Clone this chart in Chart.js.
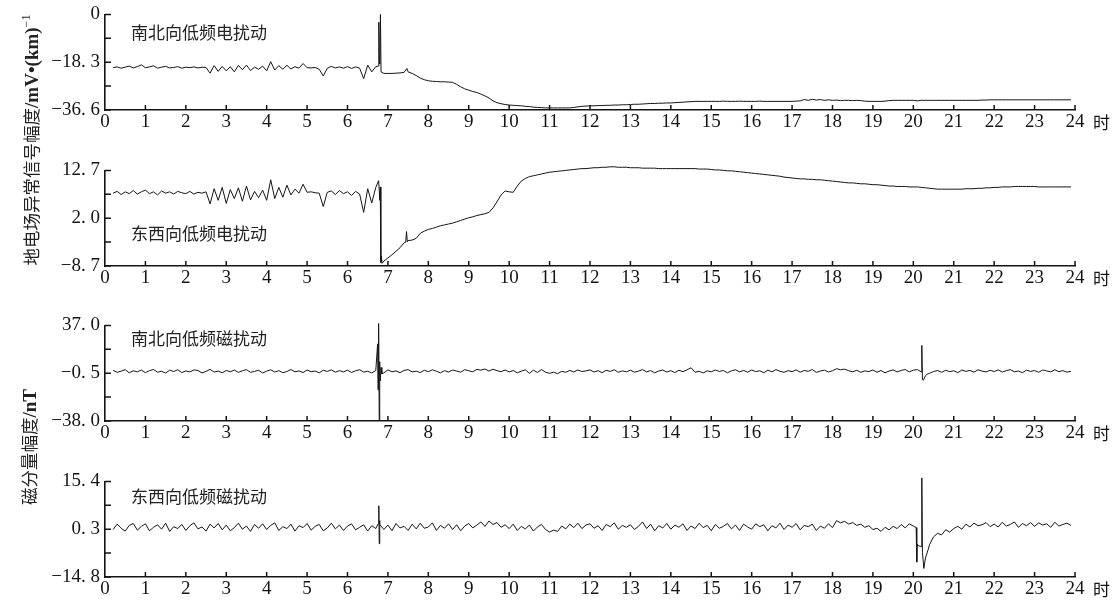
<!DOCTYPE html>
<html><head><meta charset="utf-8">
<script src="https://cdn.jsdelivr.net/npm/chart.js@4.4.1/dist/chart.umd.min.js"></script>
<style>
html,body{margin:0;padding:0;background:#fff;width:1120px;height:604px;overflow:hidden;position:relative}
canvas{position:absolute;left:0}
.lab{position:absolute;left:131px;font-size:17px;font-family:"Noto Sans CJK SC";color:#222;line-height:17px;white-space:nowrap}
.ytitle{position:absolute;transform:translate(-50%,-50%) rotate(-90deg);white-space:nowrap;font-size:17.5px;font-family:"Noto Sans CJK SC";color:#222;line-height:20px}
.lat{font-family:"Liberation Serif";font-weight:bold;font-size:19px}
.sup{font-family:"Liberation Serif";font-size:12px;vertical-align:8px}
</style></head>
<body>
<canvas id="c1" width="1120" height="142" style="top:-2px"></canvas>
<canvas id="c2" width="1120" height="142" style="top:154px"></canvas>
<canvas id="c3" width="1120" height="142" style="top:309px"></canvas>
<canvas id="c4" width="1120" height="142" style="top:465px"></canvas>
<div class="lab" style="top:23px">南北向低频电扰动</div>
<div class="lab" style="top:224px">东西向低频电扰动</div>
<div class="lab" style="top:329px">南北向低频磁扰动</div>
<div class="lab" style="top:487px">东西向低频磁扰动</div>
<div class="ytitle" style="left:29px;top:140px">地电场异常信号幅度<span class="lat">/mV•(km)</span><span class="sup">−1</span></div>
<div class="ytitle" style="left:29px;top:447px">磁分量幅度<span class="lat">/nT</span></div>
<script>
// sample grid: hours 0.0 .. 24.0, step 0.1 (one row per hour)
const START = 0, STEP = 0.1;
const xTickValues = [0,1,2,3,4,5,6,7,8,9,10,11,12,13,14,15,16,17,18,19,20,21,22,23,24];
const xTickLabels = ['0','1','2','3','4','5','6','7','8','9','10','11','12','13','14','15','16','17','18','19','20','21','22','23','24'];
const unitLabel = '时';

// 南北向低频电扰动 (mV/km)
const nsElectric = [
null,null,-20.4,-20.1,-20.6,-20.2,-19.8,-20.5,-20.0,-19.3,
-20.4,-20.1,-19.7,-20.6,-20.2,-19.9,-20.5,-20.3,-20.0,-20.6,
-20.2,-20.4,-20.1,-20.5,-20.2,-20.3,-22.5,-19.6,-21.8,-19.9,
-21.6,-20.0,-22.0,-19.5,-21.2,-19.4,-21.5,-20.2,-21.0,-19.8,
-21.6,-18.1,-21.3,-19.6,-21.0,-19.5,-20.9,-20.0,-20.6,-18.8,
-20.4,-20.5,-20.3,-21.0,-23.6,-20.6,-19.9,-20.5,-20.1,-20.6,
-20.0,-20.7,-20.1,-20.6,-24.6,-19.4,-22.0,-20.0,-19.0,-22.6,
-22.6,-22.6,-22.5,-22.4,-22.2,-22.0,-22.6,-23.4,-24.4,-25.0,
-25.4,-25.6,-25.7,-25.8,-25.8,-25.9,-26.0,-26.8,-27.7,-28.5,
-29.0,-29.5,-29.9,-30.5,-31.2,-32.0,-33.1,-33.8,-34.2,-34.5,
-34.7,-34.8,-34.9,-35.0,-35.2,-35.3,-35.5,-35.6,-35.7,-35.8,
-35.8,-35.8,-35.8,-35.8,-35.8,-35.8,-35.6,-35.4,-35.2,-35.1,
-35.0,-35.0,-34.9,-34.9,-34.8,-34.8,-34.7,-34.7,-34.6,-34.6,
-34.5,-34.4,-34.4,-34.3,-34.2,-34.1,-34.1,-34.0,-34.0,-33.9,
-33.9,-33.8,-33.7,-33.6,-33.5,-33.4,-33.3,-33.3,-33.3,-33.3,
-33.3,-33.3,-33.3,-33.2,-33.3,-33.3,-33.3,-33.2,-33.3,-33.3,
-33.3,-33.3,-33.2,-33.3,-33.3,-33.3,-33.3,-33.3,-33.3,-33.3,
-33.3,-33.2,-33.1,-32.6,-32.9,-32.5,-32.8,-32.6,-32.9,-32.7,
-32.9,-32.8,-33.0,-32.9,-32.9,-33.0,-32.9,-33.0,-33.2,-33.3,
-33.3,-33.3,-33.3,-33.2,-33.0,-32.9,-32.9,-32.9,-32.9,-32.9,
-32.9,-33.1,-32.9,-32.9,-32.9,-32.9,-32.9,-32.9,-32.9,-32.9,
-32.9,-32.9,-32.9,-32.9,-32.9,-32.9,-32.9,-32.8,-32.8,-32.7,
-32.7,-32.7,-32.7,-32.7,-32.7,-32.7,-32.7,-32.7,-32.7,-32.7,
-32.7,-32.7,-32.7,-32.7,-32.7,-32.7,-32.7,-32.7,-32.7,-32.7,
null];
const nsElectricSpikes = [[6.765,-19.8],[6.775,-3.0],[6.79,-18.8],[6.815,0.0],[6.83,-22.0],[7.47,-20.7]];

// 东西向低频电扰动 (mV/km)
const ewElectric = [
null,null,7.6,8.0,7.3,7.9,7.5,8.2,7.4,7.9,
8.3,7.5,7.9,7.2,8.1,7.6,7.9,7.4,8.0,7.7,
7.5,8.0,7.4,7.8,7.6,7.9,5.2,8.6,6.0,8.9,
5.3,8.4,6.4,8.8,5.8,9.2,6.1,8.0,6.6,8.3,
6.0,10.6,6.4,8.9,6.7,9.4,7.2,8.5,7.6,9.6,
7.8,7.9,7.7,7.6,4.6,7.8,8.1,7.3,8.2,7.5,
7.9,7.1,8.0,7.4,3.3,8.6,5.4,8.9,6.0,-7.6,
-6.9,-6.2,-5.4,-4.6,-3.5,-3.0,-2.9,-2.5,-1.4,-0.9,
-0.5,-0.3,0.0,0.3,0.5,0.7,0.9,1.2,1.5,1.8,
2.1,2.3,2.6,2.8,3.0,3.3,4.3,5.7,7.2,8.1,
7.9,7.8,9.2,10.3,10.9,11.3,11.5,11.7,11.9,12.1,
12.3,12.4,12.5,12.6,12.7,12.8,12.9,13.0,13.1,13.1,
13.2,13.3,13.3,13.4,13.4,13.5,13.5,13.4,13.4,13.4,
13.3,13.3,13.3,13.2,13.2,13.2,13.2,13.1,13.1,13.1,
13.1,13.1,13.1,13.1,13.1,13.1,13.1,13.0,13.0,13.0,
12.9,12.8,12.8,12.7,12.6,12.6,12.5,12.4,12.3,12.2,
12.1,12.0,11.9,11.8,11.7,11.6,11.5,11.4,11.2,11.1,
11.0,10.9,10.8,10.8,10.7,10.7,10.6,10.6,10.5,10.4,
10.3,10.2,10.1,10.0,9.9,9.9,9.8,9.7,9.7,9.6,
9.5,9.5,9.4,9.3,9.2,9.2,9.1,9.1,9.1,9.0,
9.0,9.0,8.9,8.8,8.7,8.6,8.5,8.5,8.5,8.5,
8.5,8.5,8.5,8.6,8.6,8.6,8.7,8.7,8.8,8.8,
8.9,8.9,9.0,9.0,9.0,9.1,9.1,9.1,9.1,9.1,
9.1,9.0,9.0,9.0,9.0,9.0,9.0,9.0,9.0,9.0,
null];
const ewElectricSpikes = [[6.77,10.4],[6.81,9.0],[6.825,-7.9],[6.84,-6.5],[6.855,-8.1],[7.44,-3.4],[7.46,-1.0],[7.48,-3.3]];

// 南北向低频磁扰动 (nT)
const nsMagnetic = [
null,null,1.8,0.2,1.1,2.3,-0.2,1.4,0.6,2.0,
-0.1,1.5,2.4,0.3,1.0,-0.4,1.9,0.8,2.2,0.0,
1.3,0.5,2.1,1.6,-0.3,0.9,2.5,0.4,1.2,-0.2,
1.7,0.6,2.0,0.1,1.4,2.3,0.2,0.9,1.8,-0.3,
1.1,2.2,0.4,1.5,-0.1,0.8,2.4,0.6,1.3,0.0,
2.0,0.7,1.2,-0.2,1.8,0.9,2.1,0.3,1.5,0.5,
1.9,0.1,1.4,2.2,0.4,1.0,-0.3,1.6,1.0,-0.2,
2.1,0.6,1.3,-0.1,1.7,2.3,0.5,1.1,0.0,1.8,
0.7,2.2,1.0,-0.2,1.5,0.4,2.0,1.2,0.3,2.3,
1.4,0.6,2.5,1.9,2.8,1.2,2.6,1.5,0.7,2.0,
0.5,1.6,-0.2,1.1,2.2,-0.6,1.9,0.1,2.4,0.3,
-0.6,0.3,-0.9,1.0,0.2,1.7,0.5,2.0,0.8,1.3,
2.1,0.4,1.5,-0.1,1.8,0.9,2.2,0.2,1.3,0.6,
1.9,0.3,1.1,2.3,0.5,1.6,-0.2,1.2,2.0,0.4,
1.5,0.0,1.8,0.7,2.1,3.8,0.2,1.0,-0.3,1.4,
0.6,2.0,0.9,1.6,-0.2,1.3,2.2,0.5,1.7,0.3,
2.0,0.8,1.4,-0.1,1.9,0.6,2.3,1.0,0.2,1.5,
0.7,2.1,0.3,1.6,1.0,2.4,0.1,1.2,1.9,0.4,
1.5,3.0,2.2,2.7,1.4,0.6,1.8,0.2,1.3,0.8,
2.0,0.3,1.6,-0.2,1.2,2.1,0.5,1.7,2.4,0.6,
1.9,2.3,0.5,-2.5,-0.6,0.8,1.6,0.2,1.8,0.7,
1.4,-0.1,2.0,0.9,1.7,0.3,2.2,1.1,0.5,1.8,
0.8,2.1,0.4,1.5,2.3,0.6,1.2,-0.1,1.9,0.9,
1.6,0.2,2.0,1.3,0.5,2.2,0.7,1.5,0.3,1.0,
null];
const nsMagneticSpikes = [[6.745,22.5],[6.755,-13.5],[6.77,38.5],[6.785,-37.3],[6.795,8.5],[6.81,-6.5],[6.83,4.0],[6.85,-1.0],
  [20.21,21.3],[20.225,-5.5],[20.25,-6.0],[20.34,-1.3]];

// 东西向低频磁扰动 (nT)
const ewMagnetic = [
null,null,0.2,1.9,0.6,-0.3,1.5,2.1,0.0,1.2,
2.0,-0.2,0.9,1.7,0.3,2.2,-0.4,1.1,0.5,1.8,
-0.1,1.4,2.3,0.4,1.0,-0.3,1.9,0.7,2.1,0.1,
1.6,-0.2,0.8,2.2,0.3,1.3,-0.4,1.8,0.6,2.0,
0.2,1.5,2.3,-0.1,1.1,0.5,1.9,-0.3,1.4,0.8,
2.1,0.0,1.2,1.8,-0.2,0.7,2.2,0.4,1.6,-0.1,
1.3,2.0,0.1,0.9,1.7,-0.3,1.4,0.5,1.8,0.2,
1.6,-0.2,2.1,0.7,1.2,-0.1,1.9,0.4,2.2,0.6,
1.0,2.3,-0.1,1.5,0.6,2.0,0.2,1.7,-0.2,1.3,
2.1,0.7,1.6,2.6,1.2,2.9,1.8,2.4,0.9,1.7,
0.5,1.9,-0.1,1.2,0.4,1.6,-0.3,1.0,1.8,0.2,
-0.6,0.0,-0.4,1.3,0.4,1.9,0.8,2.2,0.5,1.6,
2.0,0.6,1.4,-0.1,1.8,1.1,2.3,0.3,1.5,0.9,
1.7,0.2,1.2,2.6,0.5,1.9,-0.2,1.4,0.7,2.1,
0.3,1.6,0.9,2.0,-0.1,1.3,0.5,2.2,0.8,1.5,
-0.2,1.8,0.6,1.2,2.1,0.4,1.6,-0.1,1.9,1.0,
0.3,2.0,1.1,1.7,-0.2,1.4,0.7,2.2,0.2,1.6,
0.9,2.1,0.1,1.5,1.1,1.9,-0.1,1.3,0.6,2.0,
0.8,3.0,2.3,2.8,1.9,2.4,1.5,1.9,0.9,1.4,
0.2,0.6,-0.4,0.9,0.1,1.2,0.5,1.8,0.7,2.0,
1.3,-4.8,-5.2,-8.8,-4.6,-2.1,-1.0,-1.5,0.1,-0.6,
0.5,1.2,0.3,1.9,1.0,2.2,1.4,1.7,2.4,1.1,
1.9,1.0,2.5,1.3,1.8,2.6,0.9,2.1,1.4,2.4,
1.2,2.3,1.6,2.0,0.9,2.5,1.3,1.8,2.2,1.5,
null];
const ewMagneticSpikes = [[6.76,2.0],[6.775,7.7],[6.785,-4.3],[6.795,3.0],
  [20.07,0.8],[20.085,-10.1],[20.095,-4.5],[20.21,16.5],[20.225,-7.0],[20.26,-12.1],[20.37,-6.0]];

// y-axis ticks and labels
const yTicks1 = [-36.6,-27.45,-18.3,-9.15,0];
const yLabels1 = ['−36. 6','','−18. 3','','0'];
const yTicks2 = [-8.7,-3.35,2.0,7.35,12.7];
const yLabels2 = ['−8. 7','','2. 0','','12. 7'];
const yTicks3 = [-38.0,-19.25,-0.5,18.25,37.0];
const yLabels3 = ['−38. 0','','−0. 5','','37. 0'];
const yTicks4 = [-14.8,-7.25,0.3,7.85,15.4];
const yLabels4 = ['−14. 8','','0. 3','','15. 4'];

const INK = '#141414';
const tickFont = {family:'"Liberation Serif","DejaVu Serif",serif', size:19};

const innerTicks = {
  id:'innerTicks',
  afterDraw(chart){
    const {ctx, chartArea:a, scales:{x,y}} = chart;
    ctx.save();
    ctx.strokeStyle = INK; ctx.lineWidth = 1.5;
    ctx.beginPath();
    x.ticks.forEach(t=>{ if(t.value===0) return; const px = x.getPixelForValue(t.value); ctx.moveTo(px, a.bottom); ctx.lineTo(px, a.bottom-5); });
    y.ticks.forEach(t=>{ const py = y.getPixelForValue(t.value); ctx.moveTo(a.left, py); ctx.lineTo(a.left+6, py); });
    ctx.stroke();
    ctx.fillStyle = INK; ctx.font = '17px "Noto Sans CJK SC"'; ctx.textAlign = 'left'; ctx.textBaseline = 'middle';
    ctx.fillText(unitLabel, a.right + 18, a.bottom + 13);
    ctx.restore();
  }
};

function buildPoints(values, spikes){
  const pts = values.map((v,i)=>({x: START + i*STEP, y: v}));
  spikes.forEach(([t,v])=>pts.push({x:t, y:v}));
  pts.sort((a,b)=>a.x-b.x);
  return pts;
}

function makeChart(id, values, spikes, yTicks, yLabels){
  new Chart(document.getElementById(id), {
    type:'line',
    data:{datasets:[{data: buildPoints(values, spikes), borderColor:INK, borderWidth:1, pointRadius:0, tension:0, clip:false, spanGaps:false}]},
    options:{
      responsive:false, animation:false,
      layout:{padding:{left:0, right:45, top:12, bottom:0}},
      plugins:{legend:{display:false}, tooltip:{enabled:false}},
      scales:{
        x:{type:'linear', min:0, max:24,
          afterBuildTicks: s=>{ s.ticks = xTickValues.map(v=>({value:v})); },
          afterFit: s=>{ s.height = 30; },
          ticks:{autoSkip:false, maxRotation:0, font:tickFont, color:INK, padding:1,
            callback:(v,i)=>xTickLabels[i]},
          grid:{display:false, drawTicks:false},
          border:{display:true, color:INK, width:1.6}},
        y:{type:'linear', min:yTicks[0], max:yTicks[yTicks.length-1],
          afterBuildTicks: s=>{ s.ticks = yTicks.map(v=>({value:v})); },
          afterFit: s=>{ s.width = 105; },
          ticks:{autoSkip:false, font:tickFont, color:INK, padding:5,
            callback:(v,i)=>yLabels[i]},
          grid:{display:false, drawTicks:false},
          border:{display:true, color:INK, width:1.6}}
      }
    },
    plugins:[innerTicks]
  });
}

makeChart('c1', nsElectric, nsElectricSpikes, yTicks1, yLabels1);
makeChart('c2', ewElectric, ewElectricSpikes, yTicks2, yLabels2);
makeChart('c3', nsMagnetic, nsMagneticSpikes, yTicks3, yLabels3);
makeChart('c4', ewMagnetic, ewMagneticSpikes, yTicks4, yLabels4);
</script>
</body></html>
